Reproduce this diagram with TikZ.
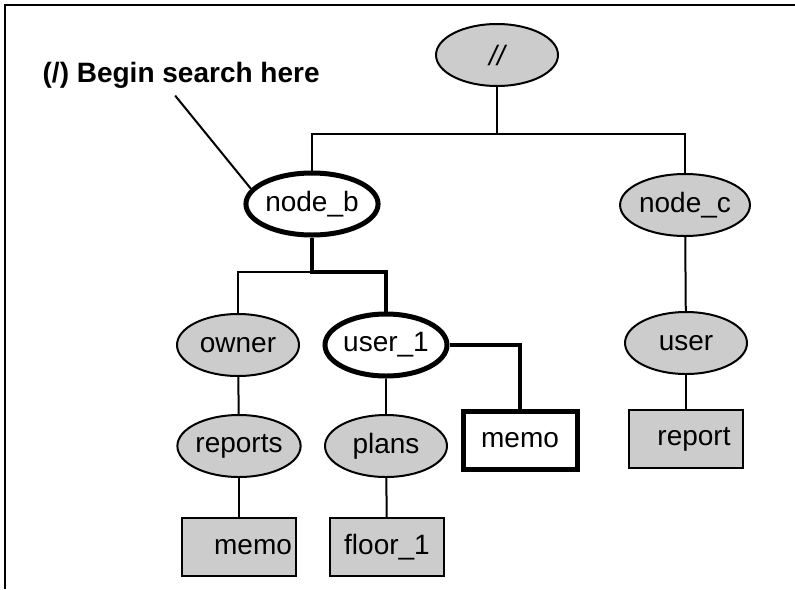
\documentclass[tikz,border=0pt]{standalone}
\usepackage{fontspec}
\setmainfont{Liberation Sans}
\usetikzlibrary{shapes.geometric}
\usetikzlibrary{calc,positioning}
\definecolor{stipple}{gray}{0.8}

\begin{document}
\begin{tikzpicture}[x=0.5pt,y=-0.5pt,line width=1pt,
    every node/.style={font=\fontsize{14}{16}\selectfont},
    dirnode/.style={ellipse,draw,fill=stipple,line width=1pt,minimum width=61pt,minimum height=31pt,inner sep=0pt},
    pathdir/.style={dirnode,fill=white,line width=2.5pt},
    filebox/.style={rectangle,draw,fill=stipple,line width=1pt,minimum width=57pt,minimum height=29pt,inner sep=0pt},
    pathfile/.style={filebox,fill=white,line width=2.5pt},
    bold/.style={line width=2pt}]

                        \useasboundingbox (0,0) rectangle (795,589);
                        % frame
                        \draw (5,589) -- (5,5) -- (795,5);

                        \node[dirnode] (root) at (497,55) {\itshape //};
                        \node[pathdir] (nodeb) at (312,204) {node\_b};
                        \node[dirnode] (nodec) at (685,205) {node\_c};
                        \node[dirnode] (owner) at (238,345) {owner};
                        \node[pathdir] (user1) at (386,345) {user\_1};
                        \node[dirnode] (user) at (686,343) {user};
                        \node[dirnode] (reports) at (239,446) {reports};
                        \node[dirnode] (plans) at (386,446) {plans};
                        \node[pathfile] (memoa) at (520,440) {memo};
                        \node[filebox] (report) at (686,439) {\hspace{8pt}report};
                        \node[filebox] (memob) at (239,547) {\hspace{14pt}memo};
                        \node[filebox] (floor) at (387,547) {floor\_1};
                        \node[anchor=base west,font=\fontsize{14}{16}\selectfont\bfseries] (label) at (35,82) {(/) Begin search here};

                        \coordinate (top) at (497,134);
                        \coordinate (split) at (312,272);

                        \draw (root) -- (top);
                        \draw (nodeb) |- (top) -| (nodec);
                        \draw[bold] (nodeb) -- (split) -| (user1);
                        \draw (split) -| (owner);
                        \draw[bold] (user1) -| (memoa);
                        \draw (owner) -- (reports);
                        \draw (reports) -- (memob);
                        \draw (user1) -- (plans);
                        \draw (plans) -- (floor);
                        \draw (nodec) -- (user);
                        \draw (user) -- (report);
                        \draw ([xshift=-3pt]label.south) -- (nodeb.166);
                    \end{tikzpicture}
\end{document}
